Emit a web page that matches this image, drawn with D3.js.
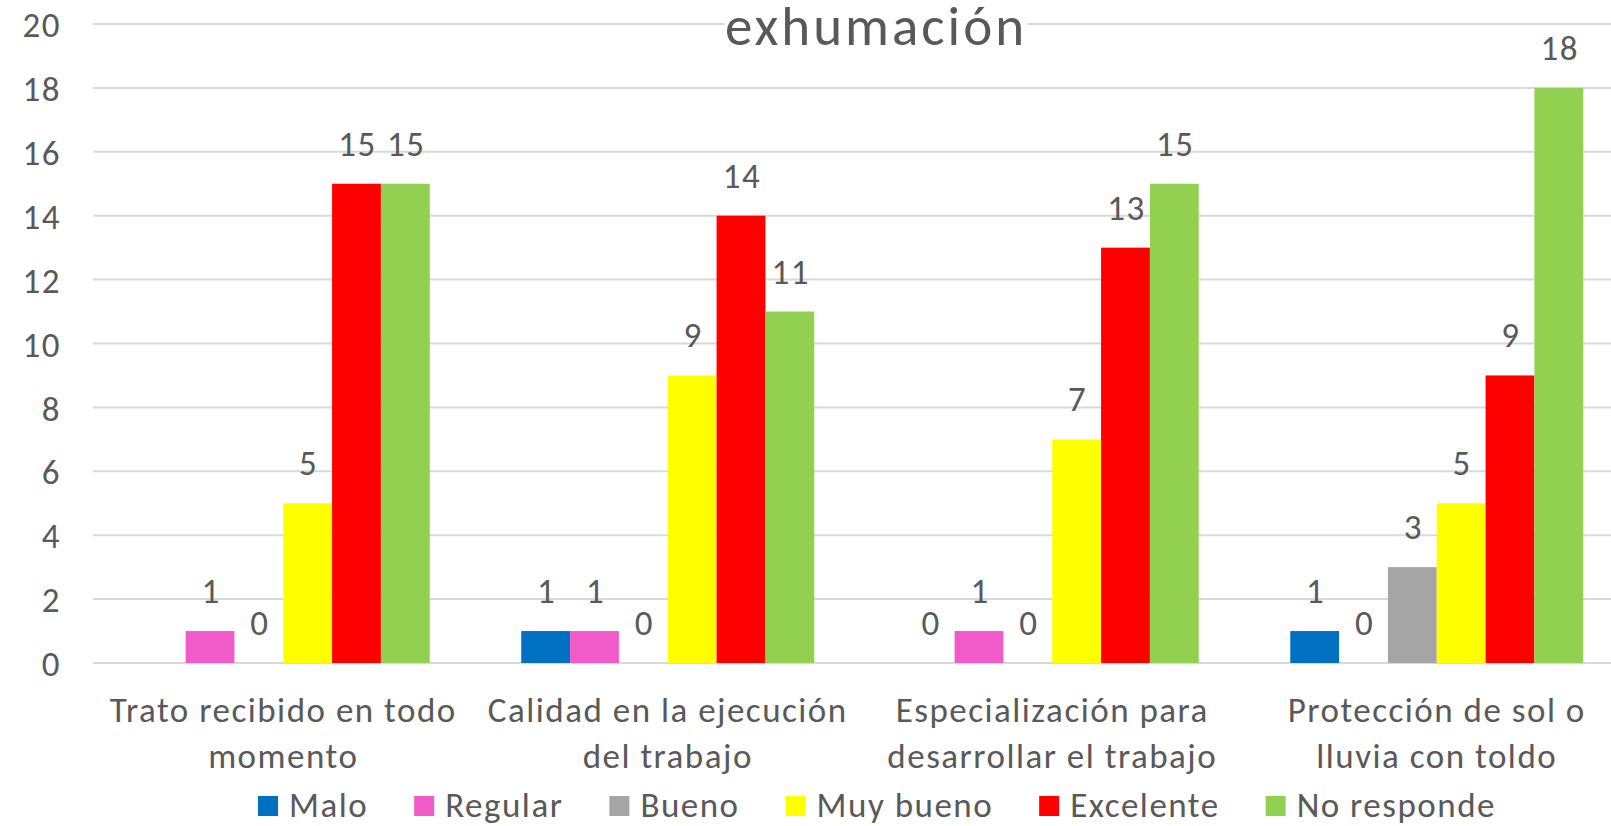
<!DOCTYPE html>
<html>
<head>
<meta charset="utf-8">
<script src="https://cdn.jsdelivr.net/npm/d3@7"></script>
<style>
  html, body { margin: 0; padding: 0; background: #fff; }
  svg { display: block; }
  text { font-family: Carlito, Calibri, Lato, sans-serif; fill: #595959; letter-spacing: 1.5px; }
</style>
</head>
<body>
<svg width="1611" height="826"></svg>
<script>
const title = "exhumación";
const categories = [
  ["Trato recibido en todo", "momento"],
  ["Calidad en la ejecución", "del trabajo"],
  ["Especialización para", "desarrollar el trabajo"],
  ["Protección de sol o", "lluvia con toldo"],
];
const seriesNames = ["Malo", "Regular", "Bueno", "Muy bueno", "Excelente", "No responde"];
const seriesColors = ["#0070C0", "#F15BC9", "#A5A5A5", "#FFFF00", "#FF0000", "#92D050"];

// one array per series, one value per category (null = no value)
const malo = [null, 1, 0, 1];
const regular = [1, 1, 1, 0];
const bueno = [0, 0, 0, 3];
const muyBueno = [5, 9, 7, 5];
const excelente = [15, 14, 13, 9];
const noResponde = [15, 11, 15, 18];
const yTicks = [0, 2, 4, 6, 8, 10, 12, 14, 16, 18, 20];

const seriesValues = [malo, regular, bueno, muyBueno, excelente, noResponde];

const svg = d3.select("svg");
const fontSize = 35;

const xScale = d3
  .scaleBand()
  .domain(d3.range(categories.length))
  .range([91, 1629])
  .paddingInner(0.238)
  .paddingOuter(0.119);

const xInner = d3
  .scaleBand()
  .domain(seriesNames)
  .range([0, xScale.bandwidth()]);

const yScale = d3.scaleLinear().domain([0, 20]).range([663, 24]);

//gridlines
svg
  .append("g")
  .selectAll("line")
  .data(yTicks)
  .enter()
  .append("line")
  .attr("x1", 93)
  .attr("x2", 1611)
  .attr("y1", (d) => yScale(d))
  .attr("y2", (d) => yScale(d))
  .attr("stroke", "#d9d9d9")
  .attr("stroke-width", 2);

//y axis labels
const yAxis = d3.axisLeft(yScale).tickValues(yTicks).tickSize(0).tickPadding(0);
const yG = svg.append("g").attr("transform", "translate(61,0)").call(yAxis);
yG.select(".domain").remove();
yG.selectAll("text")
  .attr("font-size", fontSize)
  .attr("font-family", null)
  .attr("dy", "0.36em");

//bars
const rows = [];
categories.forEach((c, ci) => {
  seriesNames.forEach((s, si) => {
    rows.push({ ci, s, si, v: seriesValues[si][ci] });
  });
});

const groups = svg.append("g");
groups
  .selectAll("rect")
  .data(rows.filter((d) => d.v !== null && d.v > 0))
  .enter()
  .append("rect")
  .attr("x", (d) => xScale(d.ci) + xInner(d.s))
  .attr("y", (d) => yScale(d.v))
  .attr("width", xInner.bandwidth())
  .attr("height", (d) => yScale(0) - yScale(d.v))
  .attr("fill", (d) => seriesColors[d.si]);

//data labels
groups
  .selectAll("text")
  .data(rows.filter((d) => d.v !== null))
  .enter()
  .append("text")
  .attr("x", (d) => xScale(d.ci) + xInner(d.s) + xInner.bandwidth() / 2 + 1)
  .attr("y", (d) => yScale(d.v) - 28)
  .attr("text-anchor", "middle")
  .attr("font-size", fontSize)
  .text((d) => d.v);

//category labels
const catG = svg
  .append("g")
  .selectAll("text")
  .data(categories)
  .enter()
  .append("text")
  .attr("text-anchor", "middle")
  .attr("font-size", fontSize);
catG
  .selectAll("tspan")
  .data((d, i) => d.map((t) => ({ t, i })))
  .enter()
  .append("tspan")
  .attr("x", (d) => xScale(d.i) + xScale.bandwidth() / 2)
  .attr("y", (d, j) => 722 + j * 46)
  .text((d) => d.t);

//title with white box hiding the top gridline
const titleG = svg.append("g");
const titleBox = titleG.append("rect").attr("fill", "#fff");
const titleText = titleG
  .append("text")
  .attr("x", 876)
  .attr("y", 45)
  .attr("text-anchor", "middle")
  .attr("font-size", 55)
  .style("letter-spacing", "3px")
  .text(title);
const tb = titleText.node().getBBox();
titleBox
  .attr("x", tb.x)
  .attr("y", 12)
  .attr("width", tb.width)
  .attr("height", 26);

//legend
const legend = svg.append("g");
const items = legend
  .selectAll("g")
  .data(seriesNames)
  .enter()
  .append("g");
items
  .append("rect")
  .attr("width", 20)
  .attr("height", 20)
  .attr("y", 796)
  .attr("fill", (d, i) => seriesColors[i]);
items
  .append("text")
  .attr("x", 31)
  .attr("y", 817)
  .attr("font-size", fontSize)
  .text((d) => d);
let offset = 0;
const widths = [];
items.each(function () {
  const w = d3.select(this).select("text").node().getComputedTextLength();
  widths.push(31 + w);
});
const gap = 46;
const total = d3.sum(widths) + gap * (widths.length - 1);
offset = 877 - total / 2;
items.attr("transform", (d, i) => {
  const x = offset;
  offset += widths[i] + gap;
  return `translate(${x},0)`;
});
</script>
</body>
</html>
